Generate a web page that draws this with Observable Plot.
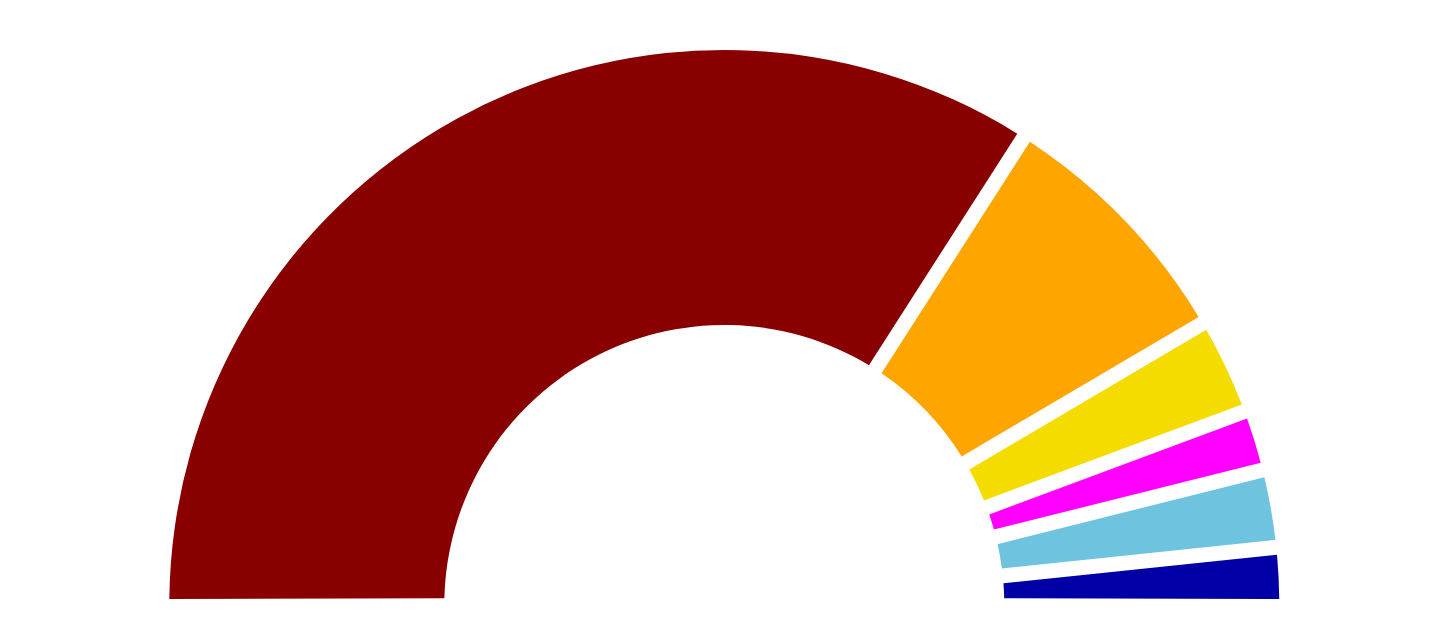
<!DOCTYPE html>
<html><head><meta charset="utf-8">
<script src="https://cdn.jsdelivr.net/npm/d3@7"></script>
<script src="https://cdn.jsdelivr.net/npm/@observablehq/plot@0.6"></script>
<style>html,body{margin:0;padding:0;background:#fff;overflow:hidden}</style>
</head><body><div id="chart"></div>
<script>
// Data (share of the half circle, %)
const parties = ["Party A", "Party B", "Party C", "Party D", "Party E", "Party F"];
const shares = [68.1, 14.9, 5.6, 3.5, 4.5, 3.4];
const colors = ["#880000", "#FFA500", "#F4DC00", "#FF00FF", "#6EC3DE", "#0000A6"];

const ends = d3.cumsum(shares);
const data = parties.map((p, i) => ({party: p, start: ends[i] - shares[i], end: ends[i]}));
const total = d3.sum(shares);

// Layout
const W = 1454, H = 641;
const cx = 724.3, cy = 605, outerR = 555, innerR = 280, gap = 15;
const eps = 1.5 / outerR; // ends sit slightly lower than half the gap
const arc = d3.arc()
  .innerRadius(innerR).outerRadius(outerR)
  .padRadius(outerR).padAngle(gap / outerR);

const chart = Plot.plot({
  width: W, height: H, margin: 0,
  x: {domain: [0, total], range: [-Math.PI / 2 - eps, Math.PI / 2 + eps], axis: null},
  color: {domain: parties, range: colors},
  marks: [
    Plot.barX(data, {
      x1: "start", x2: "end", fill: "party",
      render: (index, scales, values) => {
        const g = d3.create("svg:g").attr("transform", `translate(${cx},${cy})`);
        for (const i of index) {
          g.append("path")
            .attr("d", arc({startAngle: values.x1[i], endAngle: values.x2[i]}))
            .attr("fill", values.fill[i]);
        }
        return g.node();
      }
    })
  ]
});
document.getElementById("chart").appendChild(chart);
</script>
</body></html>
